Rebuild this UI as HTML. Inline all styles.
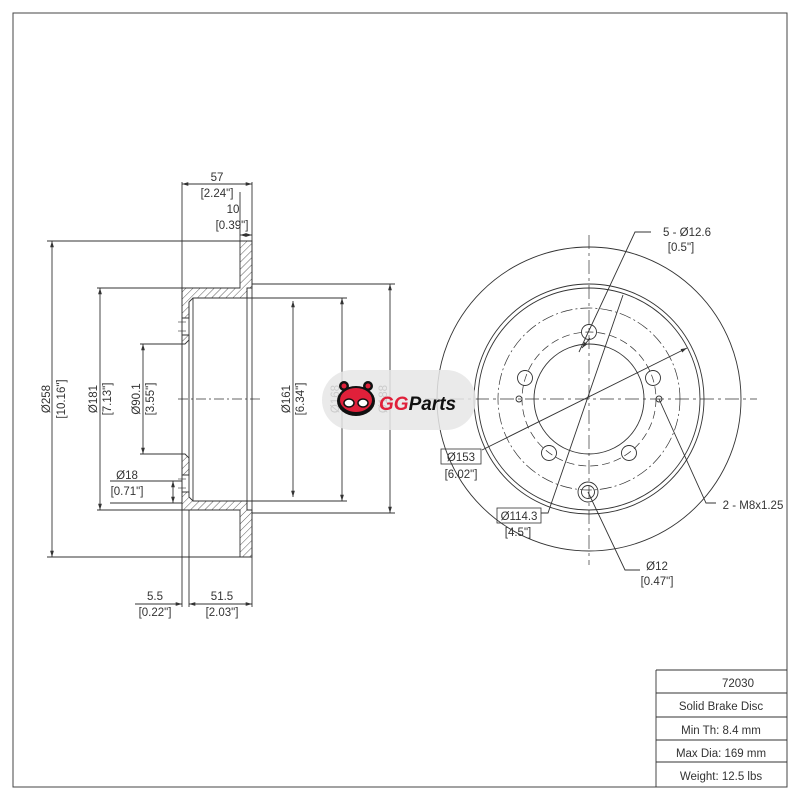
<!DOCTYPE html>
<html><head><meta charset="utf-8"><style>
html,body{margin:0;padding:0;background:#fff;}
svg{display:block;}
text{font-family:"Liberation Sans","DejaVu Sans",sans-serif;font-size:11.5px;fill:#333;}
</style></head><body>
<svg width="800" height="800" viewBox="0 0 800 800" xmlns="http://www.w3.org/2000/svg">
<defs>
<pattern id="h" patternUnits="userSpaceOnUse" width="5" height="5" patternTransform="rotate(45)">
<line x1="0" y1="0" x2="0" y2="5" stroke="#333" stroke-width="0.8"/>
</pattern>
<marker id="a" viewBox="0 0 10 10" refX="10" refY="5" markerWidth="7" markerHeight="7" orient="auto-start-reverse"><path d="M0,2 L10,5 L0,8 z" fill="#333"/></marker>
</defs>
<rect x="13" y="13" width="774" height="774" fill="none" stroke="#444" stroke-width="1"/>
<g stroke="#333" fill="none" stroke-width="0.9">
<path d="M240,241 H252 V288 H247 V298 H193 L189,302 V318 H182 V288 H240 Z" fill="url(#h)"/>
<path d="M182,335 H189 V340 L185,344 H182 Z" fill="url(#h)"/>
<path d="M182,454 H185 L189,458 V475 H182 Z" fill="url(#h)"/>
<path d="M182,492 H189 V497 L193,501 H247 V510 H252 V557 H240 V510 H182 Z" fill="url(#h)"/>
<line x1="182" y1="318" x2="182" y2="492"/>
<line x1="189" y1="302" x2="189" y2="497"/>
<line x1="193" y1="298" x2="193" y2="501"/>
<line x1="247" y1="288" x2="247" y2="510"/>
<line x1="252" y1="182" x2="252" y2="607"/>
<line x1="182" y1="182" x2="182" y2="607"/>
<line x1="189" y1="510" x2="189" y2="607"/>
<line x1="240" y1="192" x2="240" y2="241"/>
<line x1="178" y1="322" x2="186" y2="322" stroke-width="0.6"/><line x1="178" y1="331" x2="186" y2="331" stroke-width="0.6"/>
<line x1="178" y1="479" x2="186" y2="479" stroke-width="0.6"/><line x1="178" y1="488" x2="186" y2="488" stroke-width="0.6"/>
<line x1="47" y1="241" x2="240" y2="241"/><line x1="47" y1="557" x2="240" y2="557"/>
<line x1="97" y1="288" x2="182" y2="288"/><line x1="97" y1="510" x2="182" y2="510"/>
<line x1="140" y1="344" x2="185" y2="344"/><line x1="140" y1="454" x2="185" y2="454"/>
<line x1="110" y1="481" x2="182" y2="481"/><line x1="110" y1="503" x2="182" y2="503"/>
<line x1="252" y1="284" x2="395" y2="284"/><line x1="252" y1="513" x2="395" y2="513"/>
<line x1="193" y1="298" x2="347" y2="298"/><line x1="193" y1="501" x2="347" y2="501"/>
<line x1="182" y1="184" x2="252" y2="184" marker-start="url(#a)" marker-end="url(#a)"/>
<line x1="240" y1="235" x2="252" y2="235" marker-end="url(#a)" marker-start="url(#a)"/>
<line x1="52" y1="241" x2="52" y2="557" marker-start="url(#a)" marker-end="url(#a)"/>
<line x1="100" y1="288" x2="100" y2="510" marker-start="url(#a)" marker-end="url(#a)"/>
<line x1="143" y1="344" x2="143" y2="454" marker-start="url(#a)" marker-end="url(#a)"/>
<line x1="173" y1="481" x2="173" y2="503" marker-start="url(#a)" marker-end="url(#a)"/>
<line x1="293" y1="301" x2="293" y2="497" marker-start="url(#a)" marker-end="url(#a)"/>
<line x1="342" y1="298" x2="342" y2="501" marker-start="url(#a)" marker-end="url(#a)"/>
<line x1="390" y1="284" x2="390" y2="513" marker-start="url(#a)" marker-end="url(#a)"/>
<line x1="135" y1="604" x2="182" y2="604" marker-end="url(#a)"/>
<line x1="189" y1="604" x2="252" y2="604" marker-start="url(#a)" marker-end="url(#a)"/>
<line x1="178" y1="399" x2="260" y2="399" stroke-dasharray="10,3,2,3" stroke-width="0.7"/>
<line x1="425" y1="399" x2="757" y2="399" stroke-dasharray="14,4,3,4" stroke-width="0.7"/>
<line x1="589" y1="235" x2="589" y2="565" stroke-dasharray="14,4,3,4" stroke-width="0.7"/>
<circle cx="589" cy="399" r="152"/>
<circle cx="589" cy="399" r="115"/>
<circle cx="589" cy="399" r="111"/>
<circle cx="589" cy="399" r="91" stroke-dasharray="12,3,2,3" stroke-width="0.7"/>
<circle cx="589" cy="399" r="67" stroke-dasharray="8,4" stroke-width="0.7"/>
<circle cx="589" cy="399" r="55"/>
<circle cx="589" cy="332" r="7.5"/>
<circle cx="653" cy="378" r="7.5"/>
<circle cx="629" cy="453" r="7.5"/>
<circle cx="549" cy="453" r="7.5"/>
<circle cx="525" cy="378" r="7.5"/>
<circle cx="519" cy="399" r="3"/><circle cx="659" cy="399" r="3"/>
<circle cx="588" cy="492" r="10"/><circle cx="588" cy="492" r="6.5"/>
<polyline points="651,232 635,232 579,352" /><line x1="590" y1="338" x2="582" y2="348" marker-end="url(#a)"/>
<polyline points="623,295 548,513 541,513"/>
<line x1="687" y1="348" x2="482" y2="450" marker-start="url(#a)"/>
<polyline points="659,399 706,503 716,503"/>
<polyline points="588,492 625,570 640,570"/>
<rect x="441" y="449" width="40" height="15" stroke-width="0.8"/>
<rect x="497" y="508" width="44" height="15" stroke-width="0.8"/>
<line x1="656" y1="670" x2="787" y2="670"/>
<line x1="656" y1="670" x2="656" y2="787"/>
<line x1="656" y1="693" x2="787" y2="693"/>
<line x1="656" y1="717" x2="787" y2="717"/>
<line x1="656" y1="740" x2="787" y2="740"/>
<line x1="656" y1="762" x2="787" y2="762"/>
</g>
<g text-anchor="middle">
<text x="217" y="181">57</text><text x="217" y="197">[2.24"]</text>
<text x="233" y="213">10</text><text x="232" y="229">[0.39"]</text>
<text x="127" y="479">Ø18</text><text x="127" y="495">[0.71"]</text>
<text x="155" y="600">5.5</text><text x="155" y="616">[0.22"]</text>
<text x="222" y="600">51.5</text><text x="222" y="616">[2.03"]</text>
<text transform="translate(50,399) rotate(-90)">Ø258</text>
<text transform="translate(65,399) rotate(-90)">[10.16"]</text>
<text transform="translate(97,399) rotate(-90)">Ø181</text>
<text transform="translate(111,399) rotate(-90)">[7.13"]</text>
<text transform="translate(140,399) rotate(-90)">Ø90.1</text>
<text transform="translate(154,399) rotate(-90)">[3.55"]</text>
<text transform="translate(290,399) rotate(-90)">Ø161</text>
<text transform="translate(304,399) rotate(-90)">[6.34"]</text>
<text transform="translate(339,399) rotate(-90)">Ø168</text>
<text transform="translate(387,399) rotate(-90)">Ø188</text>
<text x="687" y="236">5 - Ø12.6</text><text x="681" y="251">[0.5"]</text>
<text x="461" y="461">Ø153</text><text x="461" y="478">[6.02"]</text>
<text x="519" y="520">Ø114.3</text><text x="518" y="536">[4.5"]</text>
<text x="753" y="509">2 - M8x1.25</text>
<text x="657" y="570">Ø12</text><text x="657" y="585">[0.47"]</text>
<text x="738" y="687">72030</text>
<text x="721" y="710">Solid Brake Disc</text>
<text x="721" y="734">Min Th: 8.4 mm</text>
<text x="721" y="757">Max Dia: 169 mm</text>
<text x="721" y="780">Weight: 12.5 lbs</text>
</g>
<rect x="322" y="370" width="154" height="60" rx="30" fill="#e6e6e6" opacity="0.85"/>
<g>
<circle cx="344" cy="386" r="5" fill="#111"/><circle cx="368" cy="386" r="5" fill="#111"/>
<circle cx="344" cy="386" r="2.5" fill="#e0203a"/><circle cx="368" cy="386" r="2.5" fill="#e0203a"/>
<ellipse cx="356" cy="401" rx="19" ry="15" fill="#111"/>
<ellipse cx="356" cy="400" rx="16" ry="12" fill="#e0203a"/>
<ellipse cx="349" cy="403" rx="5" ry="4" fill="#fff" stroke="#111" stroke-width="1.5"/>
<ellipse cx="363" cy="403" rx="5" ry="4" fill="#fff" stroke="#111" stroke-width="1.5"/>
</g>
<text x="379" y="410" style="font-size:19px;font-weight:bold;font-style:italic;fill:#e0203a;">GG<tspan style="fill:#111;">Parts</tspan></text>
</svg>
</body></html>
